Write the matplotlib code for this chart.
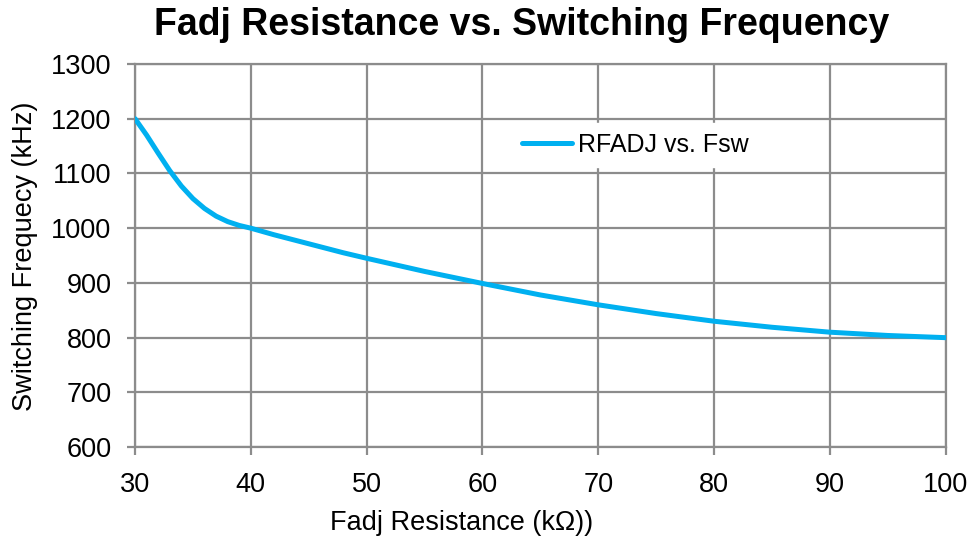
import matplotlib
matplotlib.use("Agg")
from matplotlib import pyplot as plt

# Data
resistance = [30, 31, 32, 33, 34, 35, 36, 37, 38, 39, 40, 42, 44, 46, 48, 50,
              55, 60, 65, 70, 75, 80, 85, 90, 95, 100]
frequency = [1200, 1170, 1137, 1105, 1077, 1054, 1036, 1022, 1012, 1005, 1000,
             988, 977, 966, 955, 945, 921, 899, 878, 860, 844, 830, 819, 810,
             804, 800]

x_ticks = [30, 40, 50, 60, 70, 80, 90, 100]
y_ticks = [600, 700, 800, 900, 1000, 1100, 1200, 1300]

plt.rcParams['font.family'] = ['Liberation Sans', 'DejaVu Sans']

fig = plt.figure(figsize=(9.75, 5.42), dpi=100)
ax = fig.add_axes([0.1385, 0.175, 0.8315, 0.707])

ax.plot(resistance, frequency, color='#00B0F0', linewidth=3.6,
        solid_capstyle='round', solid_joinstyle='round',
        label='RFADJ vs. Fsw', zorder=3)

ax.set_xlim(30, 100)
ax.set_ylim(600, 1300)
ax.set_xticks(x_ticks)
ax.set_yticks(y_ticks)
ax.grid(True, color='#8c8c8c', linewidth=1.6)
ax.set_axisbelow(True)
for s in ax.spines.values():
    s.set_color('#8c8c8c')
    s.set_linewidth(1.6)
ax.tick_params(axis='both', direction='out', length=6, width=1.6,
               color='#8c8c8c', labelsize=19.5)
ax.tick_params(axis='y', pad=11)
ax.tick_params(axis='x', pad=12)

ax.set_xlabel('Fadj Resistance (kΩ))', fontsize=19.5, va='center')
ax.xaxis.set_label_coords(0.403, -0.198)
ax.set_ylabel('Switching Frequecy (kHz)', fontsize=19.5, va='center')
ax.yaxis.set_label_coords(-0.136, 0.499)
fig.text(0.535, 0.954, 'Fadj Resistance vs. Switching Frequency',
         fontsize=27, fontweight='bold', ha='center', va='center')

leg = ax.legend(loc='center', bbox_to_anchor=(0.617, 0.789), frameon=True,
                fontsize=18, handlelength=2.0, handletextpad=0.25,
                borderpad=0.4, fancybox=False)
leg.get_frame().set_edgecolor('white')
leg.get_frame().set_alpha(1)

fig.savefig('out.png', dpi=100)
